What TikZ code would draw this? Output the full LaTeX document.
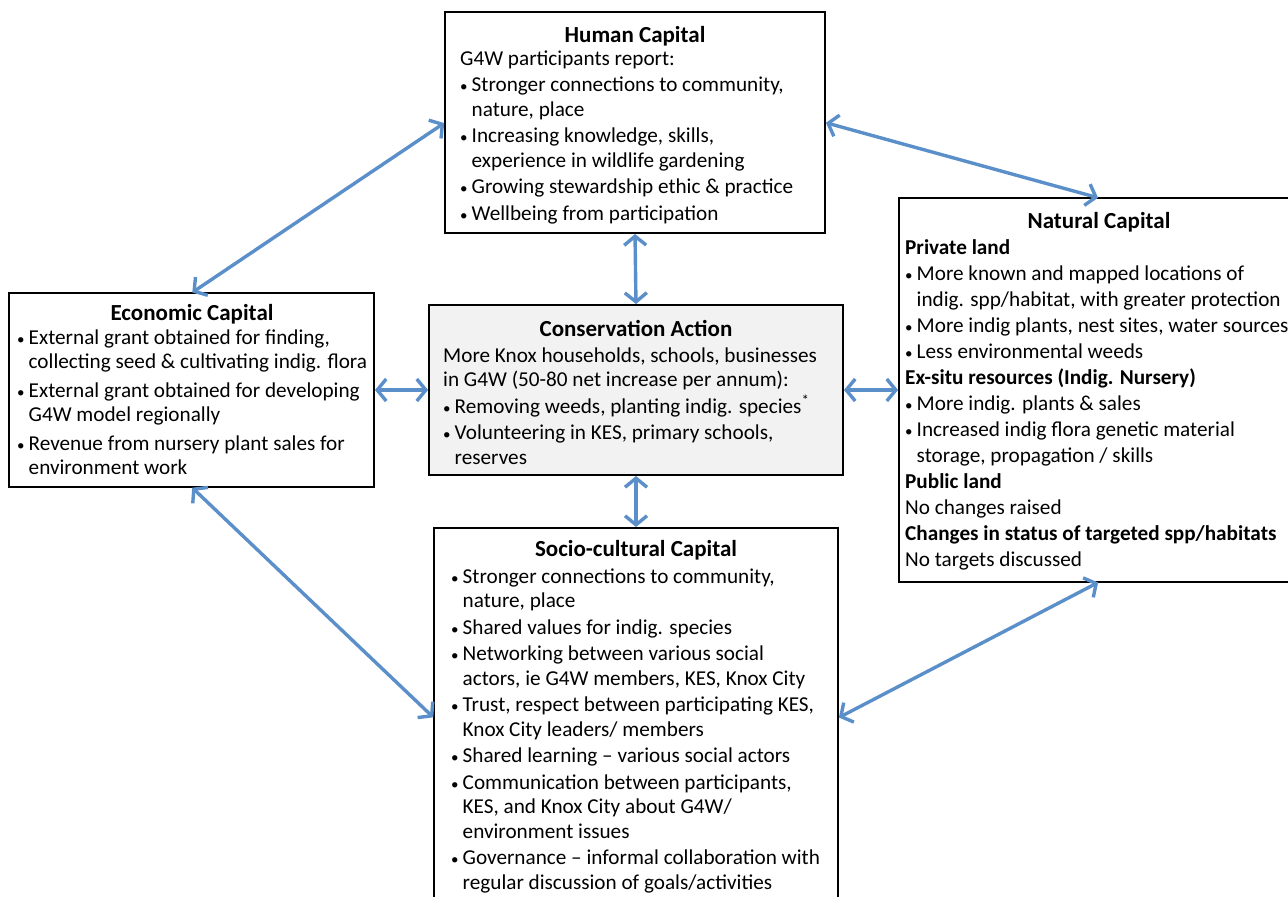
\documentclass[tikz,border=0pt]{standalone}
\usepackage{fontspec}
\setmainfont{Carlito}
\usetikzlibrary{arrows.meta}
\definecolor{arrowblue}{HTML}{5B8FC9}
\definecolor{consfill}{HTML}{F2F2F2}
\newcommand{\bul}{\makebox[11.5pt][l]{\fontsize{15}{15}\selectfont •}}
\newcommand{\cnt}{\hspace*{11.5pt}}
\newcommand{\fst}{\rule{0pt}{18pt}}
\begin{document}
\begin{tikzpicture}[x=1pt,y=-1pt,
  box/.style={draw=black, line width=1.8pt, inner sep=0pt, outer sep=0pt, anchor=north west},
  ttl/.style={font=\bfseries\fontsize{23}{26}\selectfont, anchor=base, inner sep=0pt},
  body/.style={font=\fontsize{21.2}{24.5}\selectfont, align=left, anchor=north west, inner sep=0pt},
  link/.style={draw=arrowblue, line width=3.4pt, {Straight Barb[length=9pt,width=22pt]}-{Straight Barb[length=9pt,width=22pt]}, shorten <=1pt, shorten >=1pt}
]
\useasboundingbox (0,0) rectangle (1288,897);
\fill[white] (0,0) rectangle (1288,897);
\begin{scope}
\clip (0,0) rectangle (1288,897);
% boxes
\node[box, minimum width=380pt, minimum height=221pt] (hum) at (445,12) {};
\node[box, minimum width=365pt, minimum height=194pt] (eco) at (9,293) {};
\node[box, fill=consfill, minimum width=414pt, minimum height=170pt] (con) at (429,305) {};
\node[box, minimum width=400pt, minimum height=384pt] (nat) at (899,198) {};
\node[box, minimum width=404pt, minimum height=380pt] (soc) at (434,528) {};

% titles
\node[ttl] (hum-t) at (635,42) {Human Capital};
\node[ttl] (eco-t) at (192,320) {Economic Capital};
\node[ttl] (con-t) at (636,336) {Conservation Action};
\node[ttl] (nat-t) at (1099,228) {Natural Capital};
\node[ttl] (soc-t) at (636,556) {Socio-cultural Capital};

% bodies
\node[body] (hum-b) at (460,47) {\fst G4W participants report:\\[2pt]
\bul Stronger connections to community,\\
\cnt nature, place\\[2pt]
\bul Increasing knowledge, skills,\\
\cnt experience in wildlife gardening\\[2pt]
\bul Growing stewardship ethic \& practice\\[2pt]
\bul Wellbeing from participation};

\node[body] (eco-b) at (17,326) {\fst\bul External grant obtained for finding,\\
\cnt collecting seed \& cultivating indig. flora\\[4pt]
\bul External grant obtained for developing\\
\cnt G4W model regionally\\[4pt]
\bul Revenue from nursery plant sales for\\
\cnt environment work};

\node[body] (con-b) at (443,344) {\fst More Knox households, schools, businesses\\
in G4W (50-80 net increase per annum):\\[2pt]
\bul Removing weeds, planting indig. species\textsuperscript{*}\\[2pt]
\bul Volunteering in KES, primary schools,\\
\cnt reserves};

\node[body, font=\fontsize{21.2}{26}\selectfont] (nat-b) at (905,236) {\fst\textbf{Private land}\\
\bul More known and mapped locations of\\
\cnt indig. spp/habitat, with greater protection\\
\bul More indig plants, nest sites, water sources\\
\bul Less environmental weeds\\
\textbf{Ex-situ resources (Indig. Nursery)}\\
\bul More indig. plants \& sales\\
\bul Increased indig flora genetic material\\
\cnt storage, propagation / skills\\
\textbf{Public land}\\
No changes raised\\
\textbf{Changes in status of targeted spp/habitats}\\
No targets discussed};

\node[body] (soc-b) at (451,565) {\fst\bul Stronger connections to community,\\
\cnt nature, place\\[2pt]
\bul Shared values for indig. species\\[2pt]
\bul Networking between various social\\
\cnt actors, ie G4W members, KES, Knox City\\[2pt]
\bul Trust, respect between participating KES,\\
\cnt Knox City leaders/ members\\[2pt]
\bul Shared learning -- various social actors\\[2pt]
\bul Communication between participants,\\
\cnt KES, and Knox City about G4W/\\
\cnt environment issues\\[2pt]
\bul Governance -- informal collaboration with\\
\cnt regular discussion of goals/activities};

% connectors
\draw[link] (hum.west) -- (eco.north);
\draw[link] (hum.east) -- (nat.north);
\draw[link] (hum.south) -- (con.north);
\draw[link] (eco.east) -- (con.west);
\draw[link] (con.east) -- (nat.west);
\draw[link] (con.south) -- (soc.north);
\draw[link] (eco.south) -- (soc.west);
\draw[link] (nat.south) -- (soc.east);
\end{scope}
\end{tikzpicture}
\end{document}
